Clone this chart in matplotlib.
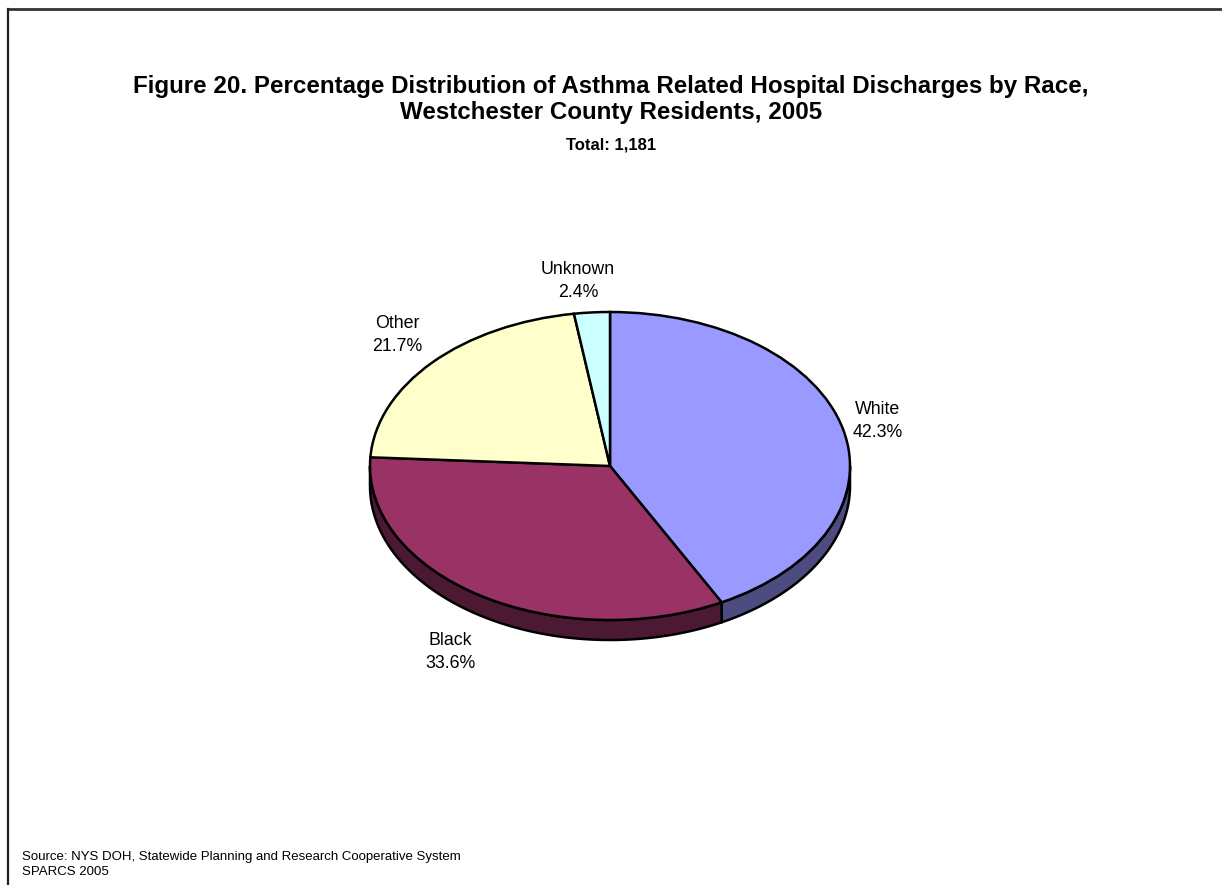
import numpy as np
import matplotlib
matplotlib.use("Agg")
import matplotlib.pyplot as plt
from matplotlib.patches import Polygon
from matplotlib.lines import Line2D

plt.rcParams['font.family'] = ['Liberation Sans', 'DejaVu Sans']

# data
races = ["White", "Black", "Other", "Unknown"]
shares = [42.3, 33.6, 21.7, 2.4]
total = 1181
top_colors = ["#9999FF", "#993366", "#FFFFCC", "#CCFFFF"]
side_colors = ["#4C4C80", "#4C1933", "#80806A", "#6A8080"]

W, H = 1222, 885
fig = plt.figure(figsize=(W / 100, H / 100), dpi=100)

# frame lines (top and left only, picture is cropped)
fig.add_artist(Line2D([8 / W, 1.0], [1 - 9 / H, 1 - 9 / H], color="#333333", lw=2))
fig.add_artist(Line2D([8 / W, 8 / W], [1 - 9 / H, 0.0], color="#222222", lw=1.6))

fig.text(611 / W, 1 - 87 / H, "Figure 20. Percentage Distribution of Asthma Related Hospital Discharges by Race,",
         ha="center", va="center", fontsize=17.4, fontweight="bold")
fig.text(611 / W, 1 - 112 / H, "Westchester County Residents, 2005",
         ha="center", va="center", fontsize=17.4, fontweight="bold")
fig.text(611 / W, 1 - 145 / H, f"Total: {total:,}",
         ha="center", va="center", fontsize=12, fontweight="bold")

# pie geometry (pixels)
cx, top, rx, ry, depth_px = 610, 312, 240, 154, 20
d = depth_px / ry
ax = fig.add_axes([(cx - rx) / W, 1 - (top + ry * 2 + depth_px) / H,
                   2 * rx / W, (ry * 2 + depth_px) / H])

wedges, _ = ax.pie(shares, colors=top_colors, startangle=90, counterclock=False,
                   wedgeprops=dict(edgecolor="black", linewidth=1.8, zorder=3))
ax.set_aspect("auto")
ax.set_xlim(-1, 1)
ax.set_ylim(-1 - d, 1)
ax.axis("off")

# side wall of the visible front half
for w, sc in zip(wedges, side_colors):
    t1, t2 = w.theta1, w.theta2
    for k in range(-2, 2):
        a = max(t1, -180 + 360 * k)
        b = min(t2, 0 + 360 * k)
        if b <= a:
            continue
        t = np.radians(np.linspace(a, b, 100))
        xs = np.concatenate([np.cos(t), np.cos(t[::-1])])
        ys = np.concatenate([np.sin(t), np.sin(t[::-1]) - d])
        ax.add_patch(Polygon(np.column_stack([xs, ys]), closed=True, facecolor=sc,
                             edgecolor="black", linewidth=1.8, zorder=2, clip_on=False))

for w in wedges:
    w.set_clip_on(False)

# labels
label_pos = [(878, 421), (450, 652), (397, 335), (578, 281)]
for name, val, (lx, ly) in zip(races, shares, label_pos):
    fig.text(lx / W, 1 - ly / H, f"{name}\n{val:.1f}%", ha="center", va="center",
             fontsize=12.8, linespacing=1.45)

fig.text(22 / W, 1 - 857 / H, "Source: NYS DOH, Statewide Planning and Research Cooperative System",
         ha="left", va="center", fontsize=9.5)
fig.text(22 / W, 1 - 872 / H, "SPARCS 2005", ha="left", va="center", fontsize=9.5)

fig.savefig("out.png", dpi=100)
